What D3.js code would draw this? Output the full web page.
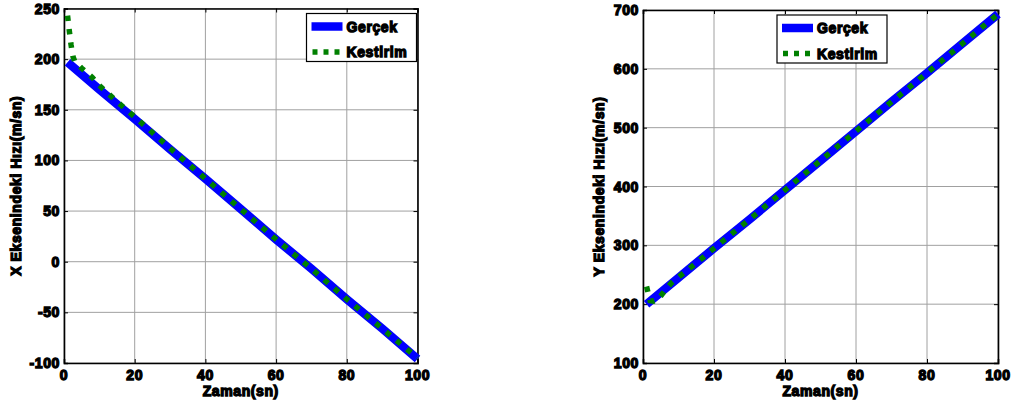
<!DOCTYPE html>
<html>
<head>
<meta charset="utf-8">
<script src="https://cdn.jsdelivr.net/npm/d3@7"></script>
<style>
  html, body { margin: 0; padding: 0; background: #fff; }
  svg { display: block; }
  .lbl { font-family: "Liberation Sans", Arial, sans-serif; font-weight: bold; fill: #000;
         stroke: #000; stroke-width: 1.3px; paint-order: stroke; letter-spacing: 0.6px; }
</style>
</head>
<body>
<svg id="chart" width="1011" height="403"></svg>
<script>
// Time samples (s) for the true velocity
const zamanGercek = [1, 10, 20, 30, 40, 50, 60, 70, 80, 90, 100];
// True X-axis velocity (m/s)
const gercekX = [197, 170, 141, 111, 82, 52, 22, -7, -37, -66, -96];
// True Y-axis velocity (m/s)
const gercekY = [200, 245, 295, 344, 394, 444, 494, 544, 593, 643, 693];

// Time samples (s) and estimated X-axis velocity (m/s)
const zamanKestirimX = [1, 1.5, 2, 2.5, 3, 5, 8, 10, 15, 20, 30, 40, 50, 60, 70, 80, 90, 100];
const kestirimX = [243, 228, 214, 203, 198, 191, 182, 174, 158, 143, 112, 82, 52, 22, -7, -37, -66, -95];

// Time samples (s) and estimated Y-axis velocity (m/s)
const zamanKestirimY = [1, 2, 3, 4, 5, 6, 8, 10, 15, 20, 30, 40, 50, 60, 70, 80, 90, 100];
const kestirimY = [230, 206, 205, 207, 214, 222, 236, 246, 270, 295, 344, 394, 444, 494, 544, 593, 643, 693];

// Tick labels
const xTicks = [0, 20, 40, 60, 80, 100];
const yTicksX = [-100, -50, 0, 50, 100, 150, 200, 250];
const yTicksY = [100, 200, 300, 400, 500, 600, 700];

const seriesNames = ["Gerçek", "Kestirim"];

const svg = d3.select("#chart");
const FONT = 14;

function panel(opt) {
  const x = d3.scaleLinear().domain([0, 100]).range([opt.left, opt.right]);
  const y = d3.scaleLinear().domain(opt.yDomain).range([opt.bottom, opt.top]);
  const g = svg.append("g");

  // grid
  g.append("g").selectAll("line").data(xTicks).join("line")
    .attr("x1", d => x(d)).attr("x2", d => x(d))
    .attr("y1", opt.top).attr("y2", opt.bottom)
    .attr("stroke", "#a0a0a0").attr("stroke-width", 1);
  g.append("g").selectAll("line").data(opt.yTicks).join("line")
    .attr("x1", opt.left).attr("x2", opt.right)
    .attr("y1", d => y(d)).attr("y2", d => y(d))
    .attr("stroke", "#a0a0a0").attr("stroke-width", 1);

  // axes (ticks inside, box on all four sides)
  const tk = -4;
  const axB = g.append("g").attr("transform", `translate(0,${opt.bottom})`)
    .call(d3.axisBottom(x).tickValues(xTicks).tickSize(tk).tickFormat(""));
  const axT = g.append("g").attr("transform", `translate(0,${opt.top})`)
    .call(d3.axisTop(x).tickValues(xTicks).tickSize(tk).tickFormat(""));
  const axL = g.append("g").attr("transform", `translate(${opt.left},0)`)
    .call(d3.axisLeft(y).tickValues(opt.yTicks).tickSize(tk).tickFormat(""));
  const axR = g.append("g").attr("transform", `translate(${opt.right},0)`)
    .call(d3.axisRight(y).tickValues(opt.yTicks).tickSize(tk).tickFormat(""));
  [axB, axT, axL, axR].forEach(a => {
    a.select(".domain").attr("stroke", "#000").attr("stroke-width", 1.6);
    a.selectAll(".tick line").attr("stroke", "#000").attr("stroke-width", 1);
  });

  // tick labels
  g.append("g").selectAll("text").data(xTicks).join("text")
    .attr("class", "lbl").attr("font-size", FONT)
    .attr("x", d => x(d)).attr("y", opt.bottom + 17)
    .attr("text-anchor", "middle").text(d => d);
  g.append("g").selectAll("text").data(opt.yTicks).join("text")
    .attr("class", "lbl").attr("font-size", FONT)
    .attr("x", opt.left - 4).attr("y", d => y(d) + 5)
    .attr("text-anchor", "end").text(d => d);

  // axis titles
  g.append("text").attr("class", "lbl").attr("font-size", FONT)
    .attr("x", (opt.left + opt.right) / 2).attr("y", opt.bottom + 33)
    .attr("text-anchor", "middle").text("Zaman(sn)");
  g.append("text").attr("class", "lbl").attr("font-size", FONT)
    .attr("transform", `translate(${opt.ylabelX},${(opt.top + opt.bottom) / 2}) rotate(-90)`)
    .attr("text-anchor", "middle").text(opt.ylabel);

  // series
  const line = d3.line().x(d => x(d[0])).y(d => y(d[1]));
  g.append("path").datum(d3.zip(zamanGercek, opt.gercek))
    .attr("d", line).attr("fill", "none")
    .attr("stroke", "#0000ff").attr("stroke-width", 8.5);
  g.append("path").datum(d3.zip(opt.zamanKestirim, opt.kestirim))
    .attr("d", line).attr("fill", "none")
    .attr("stroke", "#008000").attr("stroke-width", 5.5)
    .attr("stroke-dasharray", "5.5,8");

  // legend
  const lg = g.append("g").attr("transform", `translate(${opt.legendX},${opt.top + 5})`);
  lg.append("rect").attr("x", 0).attr("y", 0).attr("width", 110).attr("height", 48)
    .attr("fill", "#fff").attr("stroke", "#000").attr("stroke-width", 1.2);
  lg.append("line").attr("x1", 5).attr("x2", 36).attr("y1", 13).attr("y2", 13)
    .attr("stroke", "#0000ff").attr("stroke-width", 8.5);
  lg.append("line").attr("x1", 6).attr("x2", 36).attr("y1", 38.5).attr("y2", 38.5)
    .attr("stroke", "#008000").attr("stroke-width", 5.5).attr("stroke-dasharray", "5,6");
  lg.selectAll("text").data(seriesNames).join("text")
    .attr("class", "lbl").attr("font-size", FONT)
    .attr("x", 40).attr("y", (d, i) => 18 + i * 25.5).text(d => d);
}

panel({
  left: 64, right: 417.5, top: 8.5, bottom: 363,
  yDomain: [-100, 250], yTicks: yTicksX,
  gercek: gercekX, zamanKestirim: zamanKestirimX, kestirim: kestirimX,
  ylabel: "X Eksenindeki Hızı(m/sn)", ylabelX: 21, legendX: 306.5
});

panel({
  left: 643, right: 998, top: 10, bottom: 363,
  yDomain: [100, 700], yTicks: yTicksY,
  gercek: gercekY, zamanKestirim: zamanKestirimY, kestirim: kestirimY,
  ylabel: "Y Eksenindeki Hızı(m/sn)", ylabelX: 604, legendX: 777
});
</script>
</body>
</html>
